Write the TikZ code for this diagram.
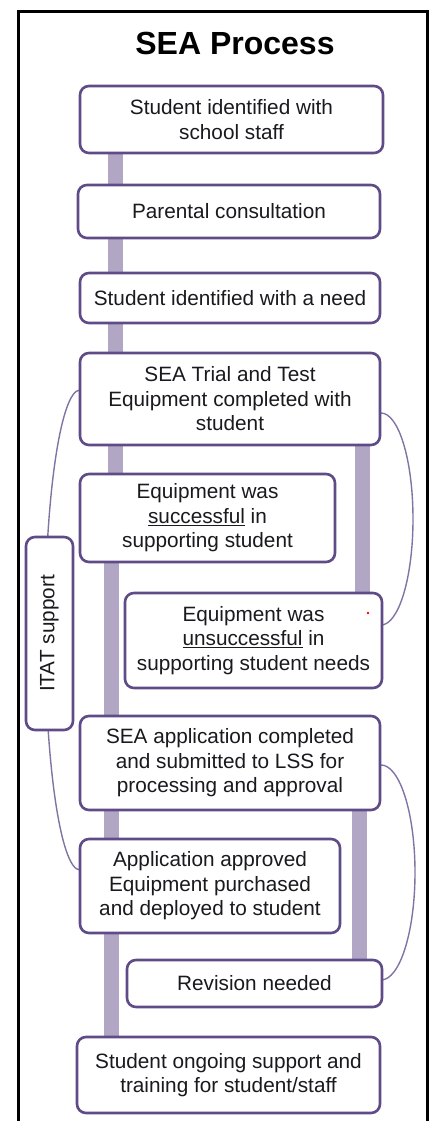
\documentclass[tikz,border=0pt]{standalone}
\usepackage{fontspec}
\setmainfont{Liberation Sans}
\usetikzlibrary{backgrounds}
\definecolor{boxc}{RGB}{94,75,135}
\definecolor{barc}{RGB}{177,167,197}
\definecolor{arcc}{RGB}{130,115,165}
\definecolor{txt}{RGB}{25,25,30}
\begin{document}
\begin{tikzpicture}[x=1pt,y=-1pt,
  stepbox/.style={draw=boxc, line width=2.6pt, rounded corners=9pt, fill=white,
    align=center, inner sep=2pt, text=txt,
    font=\fontsize{20.75}{24.5}\selectfont},
  bar/.style={draw=barc, line width=15pt},
  arcline/.style={draw=arcc, line width=1.4pt}]
\useasboundingbox (0,0) rectangle (430,1121);
\draw[line width=2.8pt] (18.5,1121) -- (18.5,11.5) -- (427.5,11.5) -- (427.5,1121);
\node[font=\fontsize{32}{36}\bfseries\selectfont, anchor=base] (title) at (235,55) {SEA Process};

\node[stepbox, minimum width=303, minimum height=67] (b1) at (231.5,119.5) {Student identified with\\school staff};
\node[stepbox, minimum width=302, minimum height=53] (b2) at (229,211.5) {Parental consultation};
\node[stepbox, minimum width=300, minimum height=50] (b3) at (230,298) {Student identified with a need};
\node[stepbox, minimum width=300, minimum height=92] (b4) at (230,399) {SEA Trial and Test\\Equipment completed with\\student};
\node[stepbox, minimum width=255, minimum height=88] (b5) at (207.5,518) {Equipment was\\\underline{successful} in\\supporting student};
\node[stepbox, minimum width=257, minimum height=95] (b6) at (253.5,640.5) {Equipment was\\\underline{unsuccessful} in\\supporting student needs};
\node[stepbox, minimum width=193, minimum height=47, rotate=90] (itat) at (49.5,633.5) {ITAT support};
\node[stepbox, minimum width=300, minimum height=94] (b7) at (230,763) {SEA application completed\\and submitted to LSS for\\processing and approval};
\node[stepbox, minimum width=260, minimum height=94] (b8) at (210,886) {Application approved\\Equipment purchased\\and deployed to student};
\node[stepbox, minimum width=255, minimum height=47] (b9) at (254.5,983.5) {Revision needed};
\node[stepbox, minimum width=303, minimum height=76] (b10) at (228.5,1075) {Student ongoing support and\\training for student/staff};

\fill[red] (368,613) circle (1.3);

\coordinate (xa) at (115,0);
\coordinate (xb) at (111,0);
\coordinate (xc) at (362,0);
\coordinate (xd) at (359.5,0);
\begin{scope}[on background layer]
  \draw[bar] (b1.south -| xa) -- (b5.north -| xa);
  \draw[bar] (b5.south -| xb) -- (b10.north -| xb);
  \draw[bar] (b4.south -| xc) -- (b6.north -| xc);
  \draw[bar] (b7.south -| xd) -- (b9.north -| xd);
  \draw[arcline] (80,390) arc[start angle=270, end angle=90, x radius=35, y radius=240];
  \draw[arcline] (381,413) arc[start angle=-90, end angle=90, x radius=32, y radius=106];
  \draw[arcline] (381,765) arc[start angle=-90, end angle=90, x radius=34, y radius=107.5];
\end{scope}
\end{tikzpicture}
\end{document}
